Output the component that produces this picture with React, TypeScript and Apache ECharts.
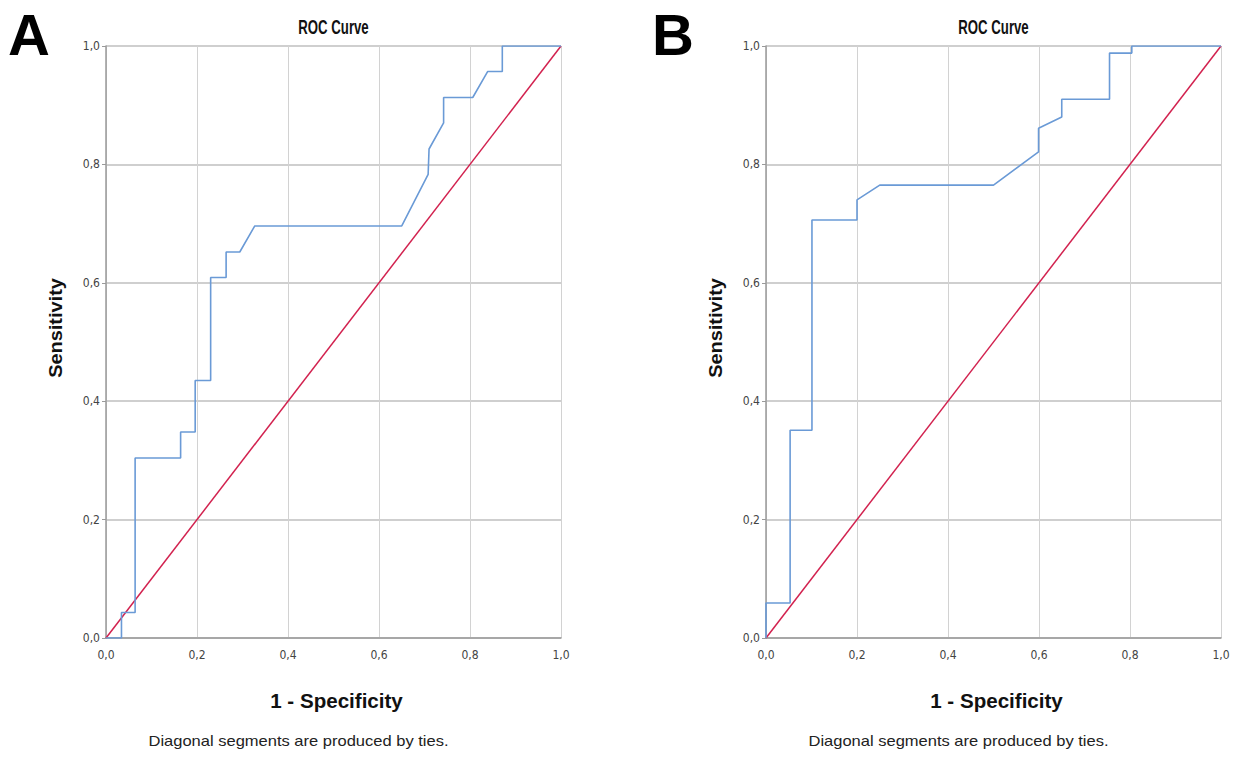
import React, { useEffect, useRef } from "react";
import * as echarts from "echarts";

// ROC curve A: [1 - specificity, sensitivity]
const rocA: [number, number][] = [
  [0, 0], [0.034, 0], [0.034, 0.043], [0.064, 0.043], [0.064, 0.304],
  [0.164, 0.304], [0.164, 0.348], [0.196, 0.348], [0.196, 0.435],
  [0.23, 0.435], [0.23, 0.609], [0.264, 0.609], [0.264, 0.652],
  [0.294, 0.652], [0.327, 0.696], [0.65, 0.696], [0.708, 0.783],
  [0.71, 0.826], [0.742, 0.87], [0.742, 0.913], [0.806, 0.913],
  [0.839, 0.957], [0.871, 0.957], [0.871, 1.0], [1.0, 1.0],
];

// ROC curve B
const rocB: [number, number][] = [
  [0, 0], [0, 0.059], [0.053, 0.059], [0.053, 0.351], [0.101, 0.351],
  [0.101, 0.706], [0.2, 0.706], [0.2, 0.74], [0.25, 0.765], [0.5, 0.765],
  [0.599, 0.821], [0.599, 0.861], [0.65, 0.88], [0.65, 0.91], [0.755, 0.91],
  [0.755, 0.988], [0.804, 0.988], [0.804, 1.0], [1.0, 1.0],
];

// reference line
const refLine: [number, number][] = [[0, 0], [1, 1]];

const panelLetters = ["A", "B"];
const titleText = "ROC Curve";
const xAxisName = "1 - Specificity";
const yAxisName = "Sensitivity";
const footnote = "Diagonal segments are produced by ties.";

const FONT = "'Liberation Sans', Arial, sans-serif";
const TICKFONT = "'DejaVu Sans Condensed', 'DejaVu Sans', sans-serif";
const fmt = (v: number) => v.toFixed(1).replace(".", ",");

const grids = [
  { left: 106, top: 46, width: 455, height: 592 },
  { left: 766, top: 46, width: 455, height: 592 },
];

export default function App() {
  const ref = useRef<HTMLDivElement>(null);
  useEffect(() => {
    if (!ref.current) return;
    const chart = echarts.init(ref.current, undefined, { renderer: "svg" });

    const xAxes = grids.map((_, i) => ({
      type: "value" as const,
      gridIndex: i,
      min: 0,
      max: 1,
      interval: 0.2,
      axisLine: { show: true, lineStyle: { color: "#9a9a9a", width: 1.5 } },
      axisTick: { show: false },
      axisLabel: {
        formatter: fmt,
        color: "#444",
        fontFamily: TICKFONT,
        fontSize: 12,
        margin: 11,
      },
      splitLine: { show: true, lineStyle: { color: "#d2d2d2", width: 1 } },
    }));
    const yAxes = grids.map((_, i) => ({
      type: "value" as const,
      gridIndex: i,
      min: 0,
      max: 1,
      interval: 0.2,
      axisLine: { show: true, lineStyle: { color: "#9a9a9a", width: 1.5 } },
      axisTick: { show: true, length: 4, lineStyle: { color: "#9a9a9a" } },
      axisLabel: {
        formatter: fmt,
        color: "#444",
        fontFamily: TICKFONT,
        fontSize: 12,
        margin: 6,
      },
      splitLine: { show: true, lineStyle: { color: "#bfbfbf", width: 1.5 } },
    }));

    const series: any[] = [];
    [rocA, rocB].forEach((d, i) => {
      series.push({
        type: "line",
        xAxisIndex: i,
        yAxisIndex: i,
        data: refLine,
        showSymbol: false,
        lineStyle: { color: "#d2224f", width: 1.5 },
        z: 3,
      });
      series.push({
        type: "line",
        xAxisIndex: i,
        yAxisIndex: i,
        data: d,
        showSymbol: false,
        lineStyle: { color: "#6a9ad6", width: 1.6 },
        z: 4,
      });
    });

    const graphics: any[] = [];
    grids.forEach((g, i) => {
      const cx = g.left + g.width / 2;
      graphics.push({
        type: "text",
        x: i === 0 ? 8 : 652,
        y: 5,
        style: {
          text: panelLetters[i],
          font: `bold 58px 'Liberation Sans', Arial, sans-serif`,
          fill: "#000",
          textAlign: "left",
          textVerticalAlign: "top",
        },
      });
      graphics.push({
        type: "text",
        x: cx,
        y: 28,
        scaleX: 0.66,
        style: {
          text: titleText,
          font: `bold 20px ${FONT}`,
          fill: "#111",
          textAlign: "center",
          textVerticalAlign: "middle",
        },
      });
      graphics.push({
        type: "text",
        x: cx + 3,
        y: 700,
        scaleX: 0.98,
        style: {
          text: xAxisName,
          font: `bold 21px ${FONT}`,
          fill: "#111",
          textAlign: "center",
          textVerticalAlign: "middle",
        },
      });
      graphics.push({
        type: "text",
        x: cx - 35,
        y: 741,
        scaleX: 1.18,
        style: {
          text: footnote,
          font: `14px ${FONT}`,
          fill: "#222",
          textAlign: "center",
          textVerticalAlign: "middle",
        },
      });
      graphics.push({
        type: "text",
        x: g.left - 51,
        y: 328,
        rotation: Math.PI / 2,
        scaleX: 1.05,
        style: {
          text: yAxisName,
          font: `bold 19px ${FONT}`,
          fill: "#111",
          textAlign: "center",
          textVerticalAlign: "middle",
        },
      });
    });

    chart.setOption({
      animation: false,
      backgroundColor: "#fff",
      grid: grids,
      xAxis: xAxes,
      yAxis: yAxes,
      series,
      graphic: graphics,
    });
    return () => chart.dispose();
  }, []);
  return (
    <div
      ref={ref}
      style={{ position: "fixed", left: 0, top: 0, width: 1236, height: 763 }}
    />
  );
}
